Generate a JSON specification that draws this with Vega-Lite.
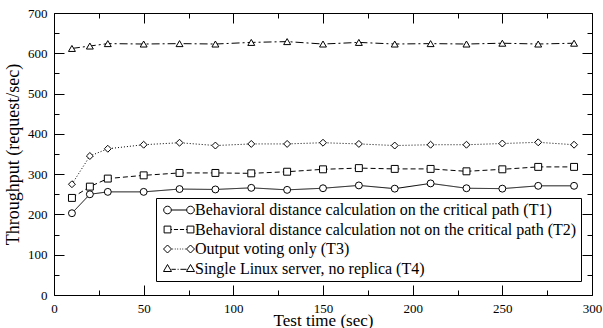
{
  "$schema": "https://vega.github.io/schema/vega-lite/v6.json",
  "width": 538,
  "height": 282,
  "autosize": {"type": "none"},
  "padding": {"left": 54, "top": 13, "right": 11, "bottom": 33},
  "config": {
    "font": "Liberation Serif",
    "view": {"stroke": null},
    "style": {
      "guide-label": {"font": "Liberation Serif", "fill": "black"},
      "guide-title": {"font": "Liberation Serif", "fill": "black"}
    },
    "axis": {
      "grid": false,
      "domainColor": "black",
      "domainWidth": 1,
      "tickColor": "black",
      "tickWidth": 1,
      "labelColor": "black",
      "labelFont": "Liberation Serif",
      "labelFontSize": 13,
      "labelFlush": false,
      "labelOverlap": false,
      "titleFont": "Liberation Serif",
      "titleFontSize": 18,
      "titleFontWeight": "normal",
      "titleColor": "black"
    },
    "legend": {
      "labelFont": "Liberation Serif",
      "labelFontSize": 16,
      "labelColor": "black",
      "labelLimit": 0
    }
  },
  "data": {
    "values": [
      {"t": 10, "series": "T1", "v": 203}, {"t": 20, "series": "T1", "v": 250}, {"t": 30, "series": "T1", "v": 256}, {"t": 50, "series": "T1", "v": 256},
      {"t": 70, "series": "T1", "v": 263}, {"t": 90, "series": "T1", "v": 262}, {"t": 110, "series": "T1", "v": 266}, {"t": 130, "series": "T1", "v": 261},
      {"t": 150, "series": "T1", "v": 265}, {"t": 170, "series": "T1", "v": 272}, {"t": 190, "series": "T1", "v": 264}, {"t": 210, "series": "T1", "v": 277},
      {"t": 230, "series": "T1", "v": 265}, {"t": 250, "series": "T1", "v": 264}, {"t": 270, "series": "T1", "v": 271}, {"t": 290, "series": "T1", "v": 271},
      {"t": 10, "series": "T2", "v": 241}, {"t": 20, "series": "T2", "v": 269}, {"t": 30, "series": "T2", "v": 289}, {"t": 50, "series": "T2", "v": 297},
      {"t": 70, "series": "T2", "v": 303}, {"t": 90, "series": "T2", "v": 303}, {"t": 110, "series": "T2", "v": 302}, {"t": 130, "series": "T2", "v": 306},
      {"t": 150, "series": "T2", "v": 312}, {"t": 170, "series": "T2", "v": 315}, {"t": 190, "series": "T2", "v": 313}, {"t": 210, "series": "T2", "v": 313},
      {"t": 230, "series": "T2", "v": 307}, {"t": 250, "series": "T2", "v": 312}, {"t": 270, "series": "T2", "v": 318}, {"t": 290, "series": "T2", "v": 318},
      {"t": 10, "series": "T3", "v": 275}, {"t": 20, "series": "T3", "v": 345}, {"t": 30, "series": "T3", "v": 363}, {"t": 50, "series": "T3", "v": 373},
      {"t": 70, "series": "T3", "v": 378}, {"t": 90, "series": "T3", "v": 371}, {"t": 110, "series": "T3", "v": 375}, {"t": 130, "series": "T3", "v": 375},
      {"t": 150, "series": "T3", "v": 378}, {"t": 170, "series": "T3", "v": 375}, {"t": 190, "series": "T3", "v": 371}, {"t": 210, "series": "T3", "v": 373},
      {"t": 230, "series": "T3", "v": 373}, {"t": 250, "series": "T3", "v": 376}, {"t": 270, "series": "T3", "v": 379}, {"t": 290, "series": "T3", "v": 373},
      {"t": 10, "series": "T4", "v": 612}, {"t": 20, "series": "T4", "v": 618}, {"t": 30, "series": "T4", "v": 624}, {"t": 50, "series": "T4", "v": 623},
      {"t": 70, "series": "T4", "v": 624}, {"t": 90, "series": "T4", "v": 623}, {"t": 110, "series": "T4", "v": 627}, {"t": 130, "series": "T4", "v": 629},
      {"t": 150, "series": "T4", "v": 623}, {"t": 170, "series": "T4", "v": 627}, {"t": 190, "series": "T4", "v": 623}, {"t": 210, "series": "T4", "v": 624},
      {"t": 230, "series": "T4", "v": 623}, {"t": 250, "series": "T4", "v": 625}, {"t": 270, "series": "T4", "v": 623}, {"t": 290, "series": "T4", "v": 625}
    ]
  },
  "layer": [
    {
      "mark": {"type": "line", "color": "black", "strokeWidth": 1},
      "encoding": {
        "x": {
          "field": "t", "type": "quantitative",
          "scale": {"domain": [0, 300], "nice": false, "zero": false},
          "axis": {
            "orient": "bottom",
            "title": "Test time (sec)",
            "titleFontSize": 17,
            "labelFont": "Liberation Serif",
            "values": [0, 25, 50, 75, 100, 125, 150, 175, 200, 225, 250, 275, 300],
            "labelExpr": "datum.value % 50 === 0 ? datum.label : ''",
            "tickSize": {"condition": {"test": "datum.value % 50 === 0", "value": -10}, "value": -5},
            "labelPadding": 17,
            "titlePadding": -8
          }
        },
        "y": {
          "field": "v", "type": "quantitative",
          "scale": {"domain": [0, 700], "nice": false},
          "axis": {
            "orient": "left",
            "title": "Throughput (request/sec)",
            "labelFont": "Liberation Serif",
            "values": [0, 50, 100, 150, 200, 250, 300, 350, 400, 450, 500, 550, 600, 650, 700],
            "labelExpr": "datum.value % 100 === 0 ? datum.label : ''",
            "tickSize": {"condition": {"test": "datum.value % 100 === 0", "value": -10}, "value": -5},
            "labelPadding": 17,
            "titlePadding": 5
          }
        },
        "detail": {"field": "series"},
        "strokeDash": {
          "field": "series", "type": "nominal",
          "scale": {"domain": ["T1", "T2", "T3", "T4"], "range": [[1, 0], [5, 3], [1, 2], [8, 3, 2, 3]]},
          "legend": null
        }
      }
    },
    {
      "mark": {"type": "point", "filled": false, "fill": "white", "stroke": "black", "strokeWidth": 1, "size": 48, "opacity": 1},
      "encoding": {
        "x": {
          "field": "t", "type": "quantitative",
          "scale": {"domain": [0, 300], "nice": false, "zero": false},
          "axis": {
            "orient": "top", "title": null, "labels": false,
            "values": [0, 25, 50, 75, 100, 125, 150, 175, 200, 225, 250, 275, 300],
            "tickSize": {"condition": {"test": "datum.value % 50 === 0", "value": -10}, "value": -5}
          }
        },
        "y": {
          "field": "v", "type": "quantitative",
          "scale": {"domain": [0, 700], "nice": false},
          "axis": {
            "orient": "right", "title": null, "labels": false,
            "values": [0, 50, 100, 150, 200, 250, 300, 350, 400, 450, 500, 550, 600, 650, 700],
            "tickSize": {"condition": {"test": "datum.value % 100 === 0", "value": -10}, "value": -5}
          }
        },
        "shape": {
          "field": "series", "type": "nominal",
          "scale": {"domain": ["T1", "T2", "T3", "T4"], "range": ["circle", "square", "diamond", "triangle-up"]},
          "legend": null
        }
      }
    },
    {
      "mark": {"type": "point", "filled": false, "color": "black", "strokeWidth": 1, "size": 64, "opacity": 0},
      "encoding": {
        "x": {"field": "t", "type": "quantitative", "axis": null},
        "y": {"field": "v", "type": "quantitative", "axis": null},
        "shape": {
          "field": "series", "type": "nominal",
          "scale": {
            "domain": ["T1", "T2", "T3", "T4"],
            "range": [
              "M-3.825,0a0.95,0.95 0 1,0 1.9,0a0.95,0.95 0 1,0 -1.9,0M-1.925,0L1.925,0M1.925,0a0.95,0.95 0 1,0 1.9,0a0.95,0.95 0 1,0 -1.9,0",
              "M-3.725,-0.85h1.7v1.7h-1.7ZM-2.025,0h0.3m0.45,0h1.05m0.45,0h1.05m0.45,0h0.3M2.025,-0.85h1.7v1.7h-1.7Z",
              "M-3.875,0l1,-1l1,1l-1,1ZM-1.675,0h0.2m0.43,0h0.2m0.43,0h0.2m0.43,0h0.2m0.43,0h0.2m0.43,0h0.2M1.875,0l1,-1l1,1l-1,1Z",
              "M-3.875,0.75L-2.875,-1L-1.875,0.75ZM-1.9,0.2h1.1m0.45,0h0.25m0.45,0h1.55M1.875,0.75L2.875,-1L3.875,0.75Z"
            ]
          },
          "legend": {
            "title": null,
            "orient": "none",
            "legendX": 102,
            "legendY": 185,
            "labelFont": "Liberation Serif",
            "labelExpr": "datum.value === 'T1' ? 'Behavioral distance calculation on the critical path (T1)' : datum.value === 'T2' ? 'Behavioral distance calculation not on the critical path (T2)' : datum.value === 'T3' ? 'Output voting only (T3)' : 'Single Linux server, no replica (T4)'",
            "symbolSize": 64,
            "symbolStrokeWidth": 1,
            "symbolStrokeColor": "black",
            "symbolOpacity": 1,
            "symbolOffset": 11,
            "labelOffset": 8,
            "rowPadding": 3.5,
            "padding": 4,
            "strokeColor": "black",
            "fillColor": "white"
          }
        }
      }
    }
  ],
  "resolve": {
    "scale": {"shape": "independent"},
    "axis": {"x": "independent", "y": "independent"}
  }
}
